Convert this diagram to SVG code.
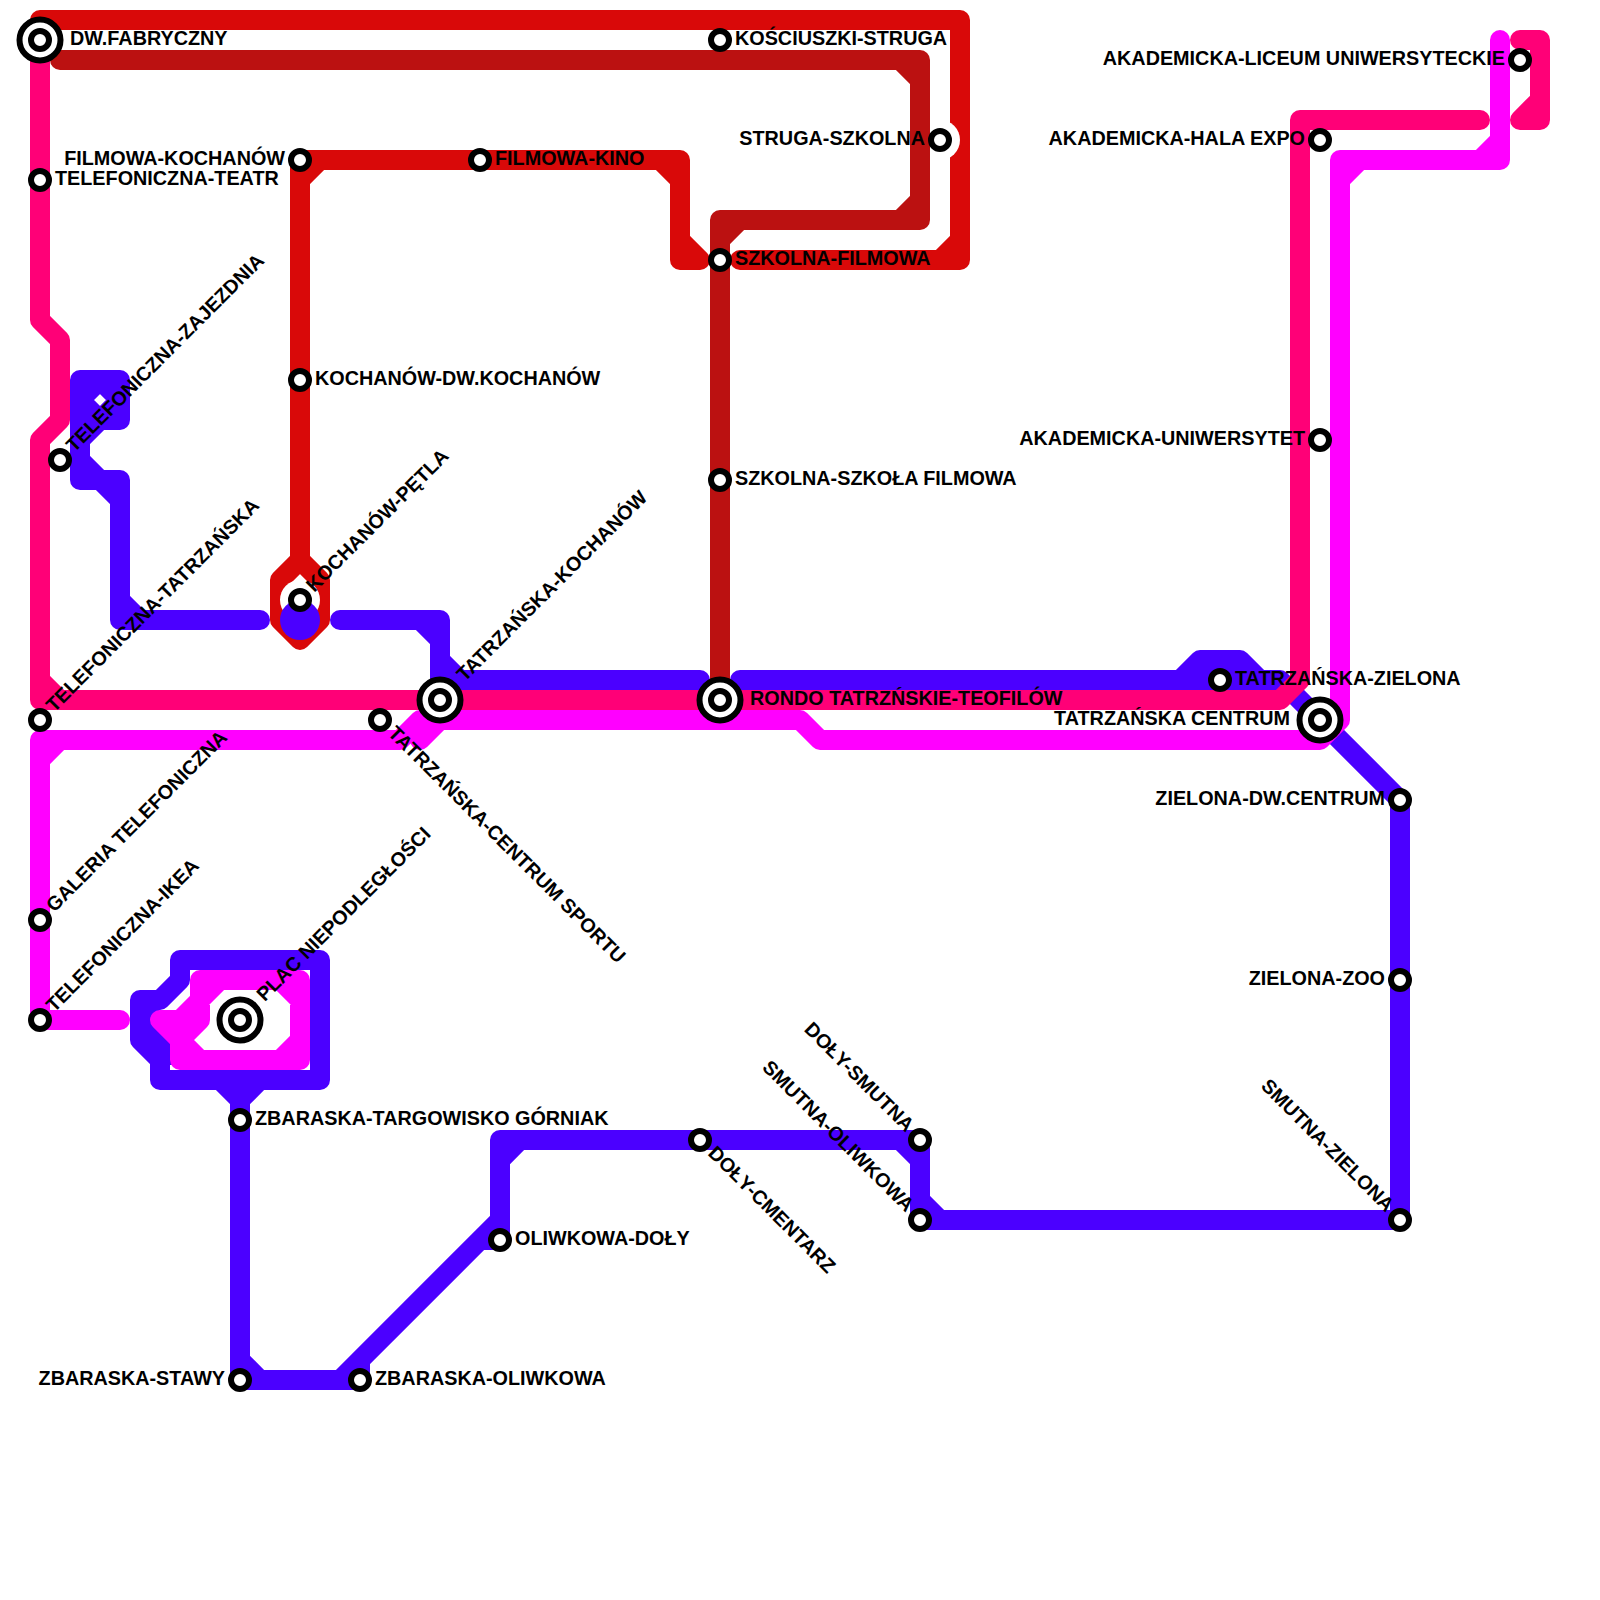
<svg xmlns="http://www.w3.org/2000/svg" width="1600" height="1600" viewBox="0 0 1600 1600">
<style>
.l{fill:none;stroke-width:20;stroke-linecap:round;stroke-linejoin:round}
.blue{stroke:#4b00ff}.red{stroke:#d90909}.dred{stroke:#bb1111}.pink{stroke:#ff0077}.mag{stroke:#ff00ff}
.bf{fill:#4b00ff}.mf{fill:#ff00ff}
.s{fill:#fff;stroke:#000;stroke-width:6}
text{font-family:"Liberation Sans",Arial,sans-serif;font-weight:700;font-size:19.8px;fill:#000}
.e{text-anchor:end}
</style>
<rect width="1600" height="1600" fill="#fff"/>
<g id="connectors">
<path class="l blue" d="M340,620H420L440,640V680M420,620H440V660L460,680H700M740,680H1280L1400,800V1220H920V1140H500V1240H480L360,1360V1380H240V1090M340,1380L500,1220M900,1140L920,1160M920,1200L940,1220M500,1160L520,1140M240,1360L260,1380M1180,680L1200,660H1240L1260,680"/>
<path class="bf" d="M150,1010H175V1065H150Z"/>
<path class="l blue" d="M240,1100L220,1080H160V1060L140,1040V1000H160L180,980V960H320V1080H220M260,1080L240,1100"/>
<path class="l blue" d="M260,620H120V480H80V380H120V420H100L80,440M80,400L100,380L120,400L100,420L80,400M80,460L100,480L120,500M120,600L140,620"/>
<path class="l red" d="M40,20H960V260H740M960,240L940,260"/>
<path class="l red" d="M700,260H680V160H300V560L280,580V620L300,640L320,620V580L300,560M660,160L680,180M680,240L700,260M300,180L320,160"/>
<circle cx="940" cy="140" r="20" fill="#fff"/>
<circle cx="300" cy="600" r="20" fill="#fff"/>
<circle cx="300" cy="620" r="20" fill="#4b00ff"/>
<path class="l dred" d="M60,60H920V220H720V700M900,60L920,80M920,200L900,220M720,240L740,220"/>
<path class="l pink" d="M40,40V320L60,340V420L40,440V700H1280L1300,680V120H1480M40,680L60,700"/>
<path class="l pink" d="M1520,40H1540V120H1520L1540,100"/>
<path class="l mag" d="M1500,40V160H1340V720L1320,740H820L800,720H420L400,740H40V1020H120M1500,140L1480,160M1340,180L1360,160M40,760L60,740M440,720L420,740"/>
<path class="mf" d="M180,1020L200,1000V1020L180,1040Z"/>
<path class="l mag" d="M160,1020H180L200,1000V980H300V1060H180V1040L200,1020V1000M180,1040L160,1020M200,1000L220,980M280,980L300,1000M300,1040L280,1060M200,1060L180,1040"/>
</g>
<g id="st-dw-fabryczny"><circle class="s" cx="40" cy="40" r="20.5"/><circle class="s" cx="40" cy="40" r="9"/><text x="70" y="45">DW.FABRYCZNY</text></g>
<g id="st-teatr"><circle class="s" cx="40" cy="180" r="9"/><text x="55" y="185">TELEFONICZNA-TEATR</text></g>
<g id="st-zajezdnia"><circle class="s" cx="60" cy="460" r="9"/><text transform="rotate(-45 60 460)" x="75" y="465">TELEFONICZNA-ZAJEZDNIA</text></g>
<g id="st-tel-tatrzanska"><circle class="s" cx="40" cy="720" r="9"/><text transform="rotate(-45 40 720)" x="55" y="725">TELEFONICZNA-TATRZAŃSKA</text></g>
<g id="st-galeria"><circle class="s" cx="40" cy="920" r="9"/><text transform="rotate(-45 40 920)" x="55" y="925">GALERIA TELEFONICZNA</text></g>
<g id="st-ikea"><circle class="s" cx="40" cy="1020" r="9"/><text transform="rotate(-45 40 1020)" x="55" y="1025">TELEFONICZNA-IKEA</text></g>
<g id="st-plac"><circle class="s" cx="240" cy="1020" r="20.5"/><circle class="s" cx="240" cy="1020" r="9"/><text transform="rotate(-45 240 1020)" x="270" y="1025">PLAC NIEPODLEGŁOŚCI</text></g>
<g id="st-targowisko"><circle class="s" cx="240" cy="1120" r="9"/><text x="255" y="1125">ZBARASKA-TARGOWISKO GÓRNIAK</text></g>
<g id="st-stawy"><circle class="s" cx="240" cy="1380" r="9"/><text class="e" x="225" y="1385">ZBARASKA-STAWY</text></g>
<g id="st-zb-oliwkowa"><circle class="s" cx="360" cy="1380" r="9"/><text x="375" y="1385">ZBARASKA-OLIWKOWA</text></g>
<g id="st-oliwkowa-doly"><circle class="s" cx="500" cy="1240" r="9"/><text x="515" y="1245">OLIWKOWA-DOŁY</text></g>
<g id="st-cmentarz"><circle class="s" cx="700" cy="1140" r="9"/><text transform="rotate(45 700 1140)" x="715" y="1145">DOŁY-CMENTARZ</text></g>
<g id="st-doly-smutna"><circle class="s" cx="920" cy="1140" r="9"/><text class="e" transform="rotate(45 920 1140)" x="905" y="1145">DOŁY-SMUTNA</text></g>
<g id="st-smutna-oliwkowa"><circle class="s" cx="920" cy="1220" r="9"/><text class="e" transform="rotate(45 920 1220)" x="905" y="1225">SMUTNA-OLIWKOWA</text></g>
<g id="st-smutna-zielona"><circle class="s" cx="1400" cy="1220" r="9"/><text class="e" transform="rotate(45 1400 1220)" x="1385" y="1225">SMUTNA-ZIELONA</text></g>
<g id="st-zoo"><circle class="s" cx="1400" cy="980" r="9"/><text class="e" x="1385" y="985">ZIELONA-ZOO</text></g>
<g id="st-dw-centrum"><circle class="s" cx="1400" cy="800" r="9"/><text class="e" x="1385" y="805">ZIELONA-DW.CENTRUM</text></g>
<g id="st-tatrzanska-centrum"><circle class="s" cx="1320" cy="720" r="20.5"/><circle class="s" cx="1320" cy="720" r="9"/><text class="e" x="1290" y="725">TATRZAŃSKA CENTRUM</text></g>
<g id="st-tatrzanska-zielona"><circle class="s" cx="1220" cy="680" r="9"/><text x="1235" y="685">TATRZAŃSKA-ZIELONA</text></g>
<g id="st-uniwersytet"><circle class="s" cx="1320" cy="440" r="9"/><text class="e" x="1305" y="445">AKADEMICKA-UNIWERSYTET</text></g>
<g id="st-hala-expo"><circle class="s" cx="1320" cy="140" r="9"/><text class="e" x="1305" y="145">AKADEMICKA-HALA EXPO</text></g>
<g id="st-liceum"><circle class="s" cx="1520" cy="60" r="9"/><text class="e" x="1505" y="65">AKADEMICKA-LICEUM UNIWERSYTECKIE</text></g>
<g id="st-rondo"><circle class="s" cx="720" cy="700" r="20.5"/><circle class="s" cx="720" cy="700" r="9"/><text x="750" y="705">RONDO TATRZŃSKIE-TEOFILÓW</text></g>
<g id="st-tat-kochanow"><circle class="s" cx="440" cy="700" r="20.5"/><circle class="s" cx="440" cy="700" r="9"/><text transform="rotate(-45 440 700)" x="470" y="705">TATRZAŃSKA-KOCHANÓW</text></g>
<g id="st-sportu"><circle class="s" cx="380" cy="720" r="9"/><text transform="rotate(45 380 720)" x="395" y="725">TATRZAŃSKA-CENTRUM SPORTU</text></g>
<g id="st-petla"><circle class="s" cx="300" cy="600" r="9"/><text transform="rotate(-45 300 600)" x="315" y="605">KOCHANÓW-PĘTLA</text></g>
<g id="st-dw-kochanow"><circle class="s" cx="300" cy="380" r="9"/><text x="315" y="385">KOCHANÓW-DW.KOCHANÓW</text></g>
<g id="st-filmowa-kochanow"><circle class="s" cx="300" cy="160" r="9"/><text class="e" x="285" y="165">FILMOWA-KOCHANÓW</text></g>
<g id="st-kino"><circle class="s" cx="480" cy="160" r="9"/><text x="495" y="165">FILMOWA-KINO</text></g>
<g id="st-szkolna-filmowa"><circle class="s" cx="720" cy="260" r="9"/><text x="735" y="265">SZKOLNA-FILMOWA</text></g>
<g id="st-szkola"><circle class="s" cx="720" cy="480" r="9"/><text x="735" y="485">SZKOLNA-SZKOŁA FILMOWA</text></g>
<g id="st-kosciuszki"><circle class="s" cx="720" cy="40" r="9"/><text x="735" y="45">KOŚCIUSZKI-STRUGA</text></g>
<g id="st-struga"><circle class="s" cx="940" cy="140" r="9"/><text class="e" x="925" y="145">STRUGA-SZKOLNA</text></g>
</svg>
